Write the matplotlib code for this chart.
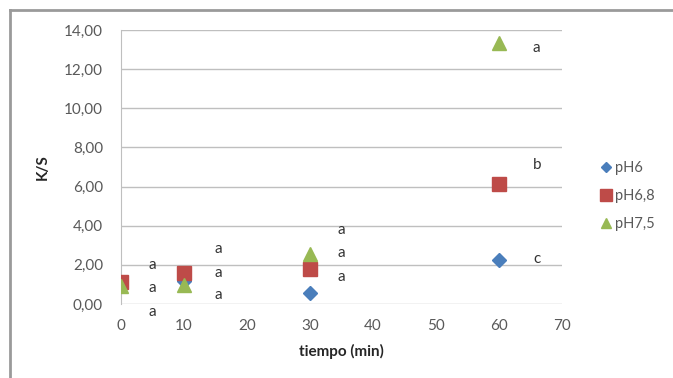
import matplotlib
matplotlib.use("Agg")
import matplotlib.pyplot as plt
from matplotlib.lines import Line2D

plt.rcParams['font.family'] = ['Lato', 'DejaVu Sans']

times = [0, 10, 30, 60]
ph6 = [1.00, 1.20, 0.55, 2.25]
ph68 = [1.10, 1.60, 1.80, 6.15]
ph75 = [0.90, 0.95, 2.55, 13.35]
series_names = ["pH6", "pH6,8", "pH7,5"]

letter_x = [5, 5, 5, 15.5, 15.5, 15.5, 35, 35, 35, 66, 66, 66]
letter_y = [2.0, 0.8, -0.4, 2.8, 1.6, 0.45, 3.8, 2.6, 1.4, 13.1, 7.1, 2.3]
letter_txt = ["a", "a", "a", "a", "a", "a", "a", "a", "a", "a", "b", "c"]

yticks = [0, 2, 4, 6, 8, 10, 12, 14]
xticks = [0, 10, 20, 30, 40, 50, 60, 70]

fig = plt.figure(figsize=(6.73, 3.78), dpi=100)
ax = fig.add_axes([121/673, 1-304/378, (562-121)/673, (304-30)/378])

blue = "#4a7ebb"
red = "#be4b48"
green = "#98b954"

ax.plot(times, ph6, linestyle='none', marker='D', color=blue, markersize=7.5, label=series_names[0], zorder=3)
ax.plot(times, ph68, linestyle='none', marker='s', color=red, markersize=10, label=series_names[1], zorder=4)
ax.plot(times, ph75, linestyle='none', marker='^', color=green, markersize=10, label=series_names[2], zorder=5)

for x, y, t in zip(letter_x, letter_y, letter_txt):
    ax.text(x, y, t, ha='center', va='center', fontsize=11, color='#333333', clip_on=False)

ax.set_xlim(0, 70)
ax.set_ylim(0, 14)
ax.set_yticks(yticks)
ax.set_yticklabels([f"{v:.2f}".replace('.', ',') for v in yticks])
ax.set_xticks(xticks)
ax.set_xticklabels([str(v) for v in xticks])
ax.tick_params(axis='y', length=0, labelsize=11, labelcolor='#595959', pad=13)
ax.tick_params(axis='x', length=0, labelsize=11, labelcolor='#595959', pad=11)
ax.grid(axis='y', color='#bfbfbf', linewidth=1)
ax.set_axisbelow(True)
for s in ['top', 'right', 'bottom']:
    ax.spines[s].set_visible(False)
ax.spines['left'].set_color('#bfbfbf')
ax.spines['left'].set_zorder(0.5)

ax.set_xlabel("tiempo (min)", fontsize=11, fontweight='bold', color='#262626', labelpad=8)
ax.set_ylabel("K/S", fontsize=11, fontweight='bold', color='#262626', labelpad=10)

handles = [
    Line2D([], [], linestyle='none', marker='D', color=blue, markersize=5),
    Line2D([], [], linestyle='none', marker='s', color=red, markersize=8),
    Line2D([], [], linestyle='none', marker='^', color=green, markersize=7),
]
fig.legend(handles, series_names, loc='center left', bbox_to_anchor=(586/673, 1-196/378),
           frameon=False, fontsize=10.5, handletextpad=0.1, labelspacing=0.95, handlelength=1.0,
           labelcolor='#595959')

fig.add_artist(Line2D([10/673, 10/673], [0, 1-10/378], color='#9a9a9a', linewidth=2, transform=fig.transFigure))
fig.add_artist(Line2D([10/673, 1], [1-10/378, 1-10/378], color='#9a9a9a', linewidth=2, transform=fig.transFigure))

fig.savefig("out.png", dpi=100)
